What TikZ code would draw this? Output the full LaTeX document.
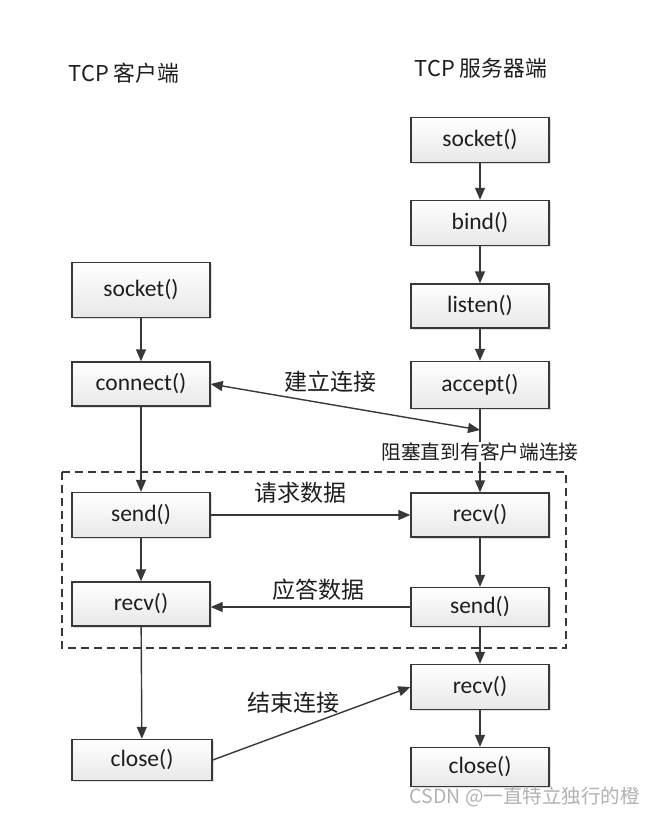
\documentclass[tikz,border=0pt]{standalone}
\usepackage{fontspec}
\setmainfont{Carlito}
\newfontfamily\cjk{Noto Sans CJK SC}
\usepackage{tikz}
\usetikzlibrary{arrows.meta,shadows}

\definecolor{linegray}{HTML}{383838}
\definecolor{boxgray}{HTML}{E8E8E8}
\definecolor{txtgray}{HTML}{1E1E1E}

\tikzset{
  callbox/.style={draw=linegray, line width=1.4pt, top color=white, bottom color=boxgray,
    text=txtgray, minimum width=138pt, inner sep=0pt,
    font=\fontsize{23.5}{26}\selectfont,
    drop shadow={opacity=0.25, shadow xshift=1.5pt, shadow yshift=-1.5pt}},
  flow/.style={draw=linegray, line width=1.4pt, -{Triangle[length=12pt,width=10pt]}},
  note/.style={text=txtgray, font=\cjk\fontsize{23}{26}\selectfont, inner sep=1pt},
}

\begin{document}
\begin{tikzpicture}[x=1pt,y=-1pt]
\useasboundingbox[fill=white] (0,0) rectangle (655,814);

% column titles
\node[note, font=\cjk\fontsize{21.8}{24}\selectfont] (ctitle) at (124,73) {TCP 客户端};
\node[note, font=\cjk\fontsize{21.8}{24}\selectfont] (stitle) at (481,68) {TCP 服务器端};

% client side
\node[callbox, minimum height=55pt] (csock) at (141,290) {socket()};
\node[callbox, minimum height=44pt] (cconn) at (141,384) {connect()};
\node[callbox, minimum height=45pt] (csend) at (141,515) {send()};
\node[callbox, minimum height=44pt] (crecv) at (141,604) {recv()};
\node[callbox, minimum height=41pt, minimum width=140pt] (cclose) at (142,760) {close()};

% server side
\node[callbox, minimum height=45pt] (ssock) at (480,140) {socket()};
\node[callbox, minimum height=45pt] (sbind) at (480,223) {bind()};
\node[callbox, minimum height=44pt] (slisten) at (480,306) {listen()};
\node[callbox, minimum height=47pt] (saccept) at (480,385) {accept()};
\node[callbox, minimum height=44pt] (srecv) at (480,515) {recv()};
\node[callbox, minimum height=39pt] (ssend) at (480,607) {send()};
\node[callbox, minimum height=45pt] (srecvb) at (480,687) {recv()};
\node[callbox, minimum height=39pt] (sclose) at (480,767) {close()};

% dashed frame round the data exchange
\draw[linegray, line width=1.1pt, dash pattern=on 8pt off 5pt] (62,472) rectangle (566,648);

\draw[flow] (csock) -- (cconn);
\draw[flow] (cconn) -- (csend);
\draw[flow] (csend) -- (crecv);
\draw[flow] (crecv) -- (cclose);

\draw[flow] (ssock) -- (sbind);
\draw[flow] (sbind) -- (slisten);
\draw[flow] (slisten) -- (saccept);
\draw[flow] (saccept) -- (srecv);
\draw[flow] (srecv) -- (ssend);
\draw[flow] (ssend) -- (srecvb);
\draw[flow] (srecvb) -- (sclose);

\coordinate (hs) at (480,430);
\draw[flow, {Triangle[length=12pt,width=10pt]}-{Triangle[length=12pt,width=10pt]}] (cconn.east) -- (hs);
\node[note] (lconn) at (330,382) {建立连接};
\node[note, fill=white, font=\cjk\fontsize{19.7}{22}\selectfont] (lblock) at (480,452) {阻塞直到有客户端连接};

\draw[flow] (csend.east) -- (srecv.west);
\node[note] (lreq) at (300,493) {请求数据};
\draw[flow] (ssend.west) -- (ssend.west -| crecv.east);
\node[note] (lresp) at (318,590) {应答数据};

\draw[flow] (cclose.east) -- (srecvb.west);
\node[note] (lend) at (293,703) {结束连接};

\node[anchor=east, text=gray!60, font=\cjk\fontsize{19.5}{22}\selectfont, inner sep=0pt] (mark) at (640,797) {CSDN @一直特立独行的橙};

\end{tikzpicture}
\end{document}
